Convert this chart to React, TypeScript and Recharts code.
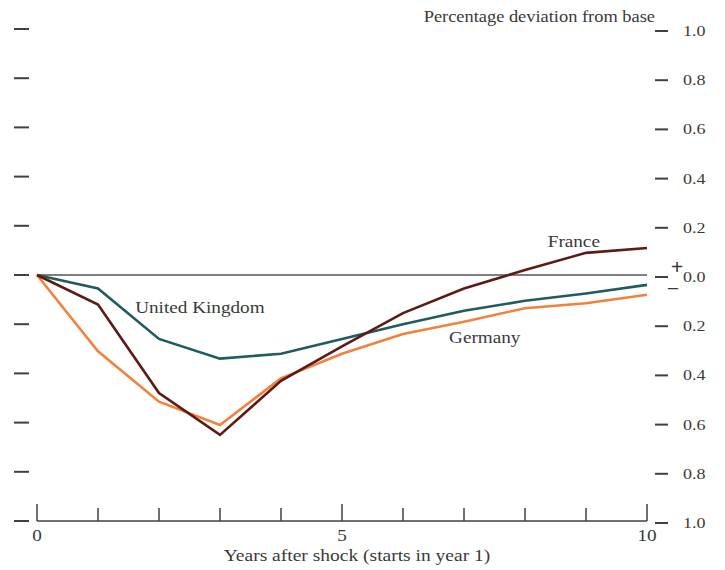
import React from 'react';
import { LineChart, Line, XAxis, YAxis, ReferenceLine, ReferenceDot } from 'recharts';

const years = [0, 1, 2, 3, 4, 5, 6, 7, 8, 9, 10];
const ukValues = [0, -0.055, -0.26, -0.34, -0.32, -0.26, -0.2, -0.145, -0.105, -0.075, -0.04];
const franceValues = [0, -0.12, -0.48, -0.65, -0.43, -0.29, -0.155, -0.055, 0.02, 0.09, 0.11];
const germanyValues = [0, -0.31, -0.515, -0.61, -0.42, -0.32, -0.24, -0.19, -0.135, -0.115, -0.08];

const yTicks = [-1, -0.8, -0.6, -0.4, -0.2, 0, 0.2, 0.4, 0.6, 0.8, 1];
const xTickLabels: Record<number, string> = { 0: '0', 5: '5', 10: '10' };

const seriesLabels = [
  { name: 'France', x: 8.8, y: 0.135 },
  { name: 'United Kingdom', x: 2.67, y: -0.135 },
  { name: 'Germany', x: 7.34, y: -0.257 },
];

const titleText = 'Percentage deviation from base';
const xTitleText = 'Years after shock (starts in year 1)';

const data = years.map((year, i) => ({
  year,
  uk: ukValues[i],
  france: franceValues[i],
  germany: germanyValues[i],
}));

const FONT = '"Liberation Serif", "DejaVu Serif", serif';
const TEXT = '#3a3a3a';
const AXIS = '#404040';

function SText(props: any) {
  const { x, y, anchor = 'middle', size = 16, sx = 1.2, weight = 'normal', children } = props;
  return (
    <text
      transform={`translate(${x},${y}) scale(${sx},1)`}
      x={0}
      y={0}
      textAnchor={anchor}
      fontFamily={FONT}
      fontSize={size}
      fontWeight={weight}
      fill={TEXT}
    >
      {children}
    </text>
  );
}

function XTick(props: any) {
  const { x, y, payload } = props;
  const v = payload.value;
  const major = v % 5 === 0;
  const label = xTickLabels[v];
  return (
    <g>
      <line x1={x} x2={x} y1={y} y2={y - (major ? 17 : 13)} stroke={AXIS} strokeWidth={1.5} />
      {label !== undefined && (
        <SText x={x} y={y + 20} size={16}>
          {label}
        </SText>
      )}
    </g>
  );
}

function LeftTick(props: any) {
  const { x, y } = props;
  return <line x1={x - 23} x2={x - 8} y1={y} y2={y} stroke={AXIS} strokeWidth={2} />;
}

function RightTick(props: any) {
  const { x, y, payload } = props;
  const v = payload.value;
  const yy = y + 2;
  return (
    <g>
      <line x1={x + 8} x2={x + 21} y1={yy} y2={yy} stroke={AXIS} strokeWidth={2} />
      {v === 0 && (
        <>
          <SText x={x + 30} y={yy - 3} size={22} sx={1} weight="bold">+</SText>
          <SText x={x + 26} y={yy + 19} size={22} sx={1}>−</SText>
        </>
      )}
      <SText x={x + 36} y={yy + 5} anchor="start" size={15} sx={1.2}>
        {Math.abs(v).toFixed(1)}
      </SText>
    </g>
  );
}

function TitleLabel(props: any) {
  const vb = props.viewBox || {};
  return (
    <SText x={vb.x + 8} y={vb.y - 7} anchor="end" size={16} sx={1.15}>
      {titleText}
    </SText>
  );
}

function XTitleLabel(props: any) {
  const vb = props.viewBox || {};
  return (
    <SText x={vb.x + vb.width / 2 + 15} y={vb.y + vb.height - 9} size={16} sx={1.22}>
      {xTitleText}
    </SText>
  );
}

function SeriesLabelShape(name: string) {
  return (props: any) => (
    <SText x={props.cx} y={props.cy + 5} size={16} sx={1.2}>
      {name}
    </SText>
  );
}

export default function App() {
  return (
    <div style={{ position: 'absolute', left: 0, top: 0, width: 725, height: 570, background: '#fff' }}>
      <LineChart width={725} height={570} data={data} margin={{ top: 29, right: 0, left: 0, bottom: 0 }}>
        <XAxis
          dataKey="year"
          type="number"
          domain={[0, 10]}
          ticks={years}
          height={49}
          tickSize={0}
          tickMargin={0}
          tickLine={false}
          axisLine={{ stroke: AXIS, strokeWidth: 1.5 }}
          tick={<XTick />}
          interval={0}
          label={{ content: <XTitleLabel /> }}
        />
        <YAxis
          yAxisId="left"
          orientation="left"
          type="number"
          domain={[-1, 1]}
          allowDataOverflow
          ticks={yTicks}
          width={37}
          tickSize={0}
          tickMargin={0}
          tickLine={false}
          axisLine={false}
          tick={<LeftTick />}
          interval={0}
        />
        <YAxis
          yAxisId="right"
          orientation="right"
          type="number"
          domain={[-1, 1]}
          allowDataOverflow
          ticks={yTicks}
          width={78}
          tickSize={0}
          tickMargin={0}
          tickLine={false}
          axisLine={false}
          tick={<RightTick />}
          interval={0}
          label={{ content: <TitleLabel /> }}
        />
        <ReferenceLine yAxisId="right" y={0} stroke="#555" strokeWidth={1.5} />
        <Line yAxisId="left" type="linear" dataKey="uk" stroke="#1f5c5b" strokeWidth={2.6} dot={false} isAnimationActive={false} />
        <Line yAxisId="left" type="linear" dataKey="germany" stroke="#f0823e" strokeWidth={2.6} dot={false} isAnimationActive={false} />
        <Line yAxisId="left" type="linear" dataKey="france" stroke="#5e1a17" strokeWidth={2.6} dot={false} isAnimationActive={false} />
        {seriesLabels.map((s) => (
          <ReferenceDot
            key={s.name}
            yAxisId="left"
            x={s.x}
            y={s.y}
            r={0}
            ifOverflow="visible"
            shape={SeriesLabelShape(s.name)}
          />
        ))}
      </LineChart>
    </div>
  );
}
